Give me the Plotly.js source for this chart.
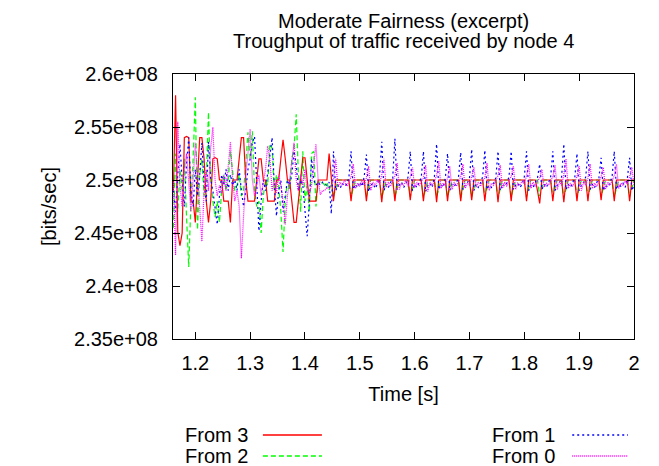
<!DOCTYPE html>
<html>
<head>
<meta charset="utf-8">
<script src="https://cdn.plot.ly/plotly-3.0.1.min.js"></script>
<style>
  html, body { margin: 0; padding: 0; background: #ffffff; }
  #chart { width: 659px; height: 466px; }
</style>
</head>
<body>
<div id="chart"></div>
<script>
// ---- Data (throughput values in Mbit/s, i.e. units of 1e6 bits/sec) ----
const time = [
  1.160,1.164,1.168,1.172,1.176,1.180,1.184,1.188,1.192,1.196,
  1.200,1.204,1.208,1.212,1.216,1.220,1.224,1.228,1.232,1.236,
  1.240,1.244,1.248,1.252,1.256,1.260,1.264,1.268,1.272,1.276,
  1.280,1.284,1.288,1.292,1.296,1.300,1.304,1.308,1.312,1.316,
  1.320,1.324,1.328,1.332,1.336,1.340,1.344,1.348,1.352,1.356,
  1.360,1.364,1.368,1.372,1.376,1.380,1.384,1.388,1.392,1.396,
  1.400,1.404,1.408,1.412,1.416,1.420,1.424,1.428,1.432,1.436,
  1.440,1.444,1.448,1.452,1.456,1.460,1.464,1.468,1.472,1.476,
  1.480,1.484,1.488,1.492,1.496,1.500,1.504,1.508,1.512,1.516,
  1.520,1.524,1.528,1.532,1.536,1.540,1.544,1.548,1.552,1.556,
  1.560,1.564,1.568,1.572,1.576,1.580,1.584,1.588,1.592,1.596,
  1.600,1.604,1.608,1.612,1.616,1.620,1.624,1.628,1.632,1.636,
  1.640,1.644,1.648,1.652,1.656,1.660,1.664,1.668,1.672,1.676,
  1.680,1.684,1.688,1.692,1.696,1.700,1.704,1.708,1.712,1.716,
  1.720,1.724,1.728,1.732,1.736,1.740,1.744,1.748,1.752,1.756,
  1.760,1.764,1.768,1.772,1.776,1.780,1.784,1.788,1.792,1.796,
  1.800,1.804,1.808,1.812,1.816,1.820,1.824,1.828,1.832,1.836,
  1.840,1.844,1.848,1.852,1.856,1.860,1.864,1.868,1.872,1.876,
  1.880,1.884,1.888,1.892,1.896,1.900,1.904,1.908,1.912,1.916,
  1.920,1.924,1.928,1.932,1.936,1.940,1.944,1.948,1.952,1.956,
  1.960,1.964,1.968,1.972,1.976,1.980,1.984,1.988,1.992,1.996,
  2.000
];

const from3 = [
  249.0,258.0,245.1,243.8,245.0,254.0,254.1,254.0,248.0,248.0,
  246.0,250.0,254.0,254.0,252.0,248.0,246.0,248.0,252.0,252.1,
  252.0,250.0,250.0,248.0,248.0,248.0,246.0,250.0,250.0,250.0,
  252.0,254.0,254.0,250.0,248.0,248.0,248.0,248.0,250.0,252.0,
  252.0,250.0,250.0,248.0,248.0,248.0,248.0,250.0,250.0,252.0,
  253.8,252.0,250.0,250.0,248.0,246.0,246.0,248.0,250.0,252.1,
  252.1,250.0,248.0,248.0,248.0,248.0,250.0,250.0,250.0,250.0,
  250.0,252.5,250.0,248.0,250.0,250.0,250.0,250.0,250.0,250.0,
  250.0,248.0,250.0,250.0,250.0,250.0,250.0,250.0,248.0,250.0,
  250.0,250.0,250.0,250.0,250.0,247.9,250.0,250.0,250.0,250.0,
  250.0,248.0,250.0,250.0,250.0,250.0,250.0,250.0,248.1,250.0,
  250.0,250.0,250.0,250.0,248.0,250.0,250.0,250.0,250.0,250.0,
  247.9,250.0,250.0,250.0,250.0,248.0,250.0,250.0,250.0,250.0,
  250.0,248.0,250.0,250.0,250.0,250.0,248.1,250.0,250.0,250.0,
  250.0,250.0,248.0,250.0,250.0,250.0,250.0,250.0,247.9,250.0,
  250.0,250.0,250.0,250.0,248.0,250.0,250.0,250.0,250.0,250.0,
  250.0,248.0,250.0,250.0,250.0,250.0,249.0,247.8,250.0,250.0,
  250.0,250.0,250.0,248.0,250.0,250.0,250.0,250.0,247.9,250.0,
  250.0,250.0,250.0,250.0,248.0,250.0,250.0,250.0,250.0,248.0,
  250.0,250.0,250.0,250.0,250.0,248.1,250.0,250.0,250.0,250.0,
  250.0,248.0,250.0,250.0,250.0,250.0,250.0,250.0,248.0,250.0,
  250.0
];

const from2 = [
  245.5,252.5,247.0,251.0,249.0,252.0,246.5,241.8,248.0,252.0,
  257.8,245.3,250.5,252.0,248.5,250.0,256.4,250.0,248.0,246.5,
  248.0,246.0,249.0,250.5,249.0,250.0,252.7,251.0,249.0,249.5,
  250.5,248.5,249.0,251.5,254.5,252.0,254.6,249.0,247.5,248.0,
  245.0,248.5,250.0,249.5,253.4,253.0,249.0,250.5,249.5,247.0,
  243.2,248.0,250.0,249.0,252.0,253.0,256.2,250.5,247.0,252.7,
  248.0,249.5,247.0,252.5,252.7,247.5,249.8,249.8,249.8,249.5,
  249.8,249.0,249.8,248.4,249.3,250.0,250.0,250.0,250.0,250.0,
  250.0,248.4,249.3,250.0,250.0,250.0,250.0,250.0,248.4,249.3,
  250.0,250.0,250.0,250.0,250.0,248.3,249.3,250.0,250.0,250.0,
  250.0,248.4,249.3,250.0,250.0,250.0,250.0,250.0,248.4,249.3,
  250.0,250.0,250.0,250.0,248.3,249.3,250.0,250.0,250.0,250.0,
  248.4,249.3,250.0,250.0,250.0,248.4,249.3,250.0,250.0,250.0,
  250.0,248.3,249.3,250.0,250.0,250.0,248.4,249.3,250.0,250.0,
  250.0,250.0,248.4,249.3,250.0,250.0,250.0,250.0,248.3,249.3,
  250.0,250.0,250.0,250.0,248.4,249.3,250.0,250.0,250.0,250.0,
  250.0,248.4,249.3,250.0,250.0,250.0,250.0,248.5,249.3,250.0,
  250.0,250.0,250.0,248.4,249.3,250.0,250.0,250.0,248.3,249.3,
  250.0,250.0,250.0,250.0,248.4,249.3,250.0,250.0,250.0,248.4,
  249.3,250.0,250.0,250.0,250.0,248.4,249.3,250.0,250.0,250.0,
  250.0,248.4,249.3,250.0,250.0,250.0,250.0,250.0,248.4,249.3,
  250.0
];

const from1 = [
  249.0,247.0,250.5,253.4,250.0,247.5,251.5,254.0,249.0,247.5,
  251.0,248.5,250.5,253.5,249.5,248.0,253.6,250.0,249.0,247.2,
  245.8,248.5,250.5,249.5,251.0,249.0,250.5,249.5,250.0,249.0,
  251.0,249.0,247.5,249.0,251.0,252.0,253.5,254.1,249.5,245.2,
  248.0,250.0,249.0,250.5,252.0,254.0,249.5,246.6,249.0,250.0,
  247.0,248.5,250.0,249.5,250.5,252.7,251.5,249.0,250.0,249.5,
  247.0,244.7,248.0,252.0,250.0,249.5,249.8,249.5,249.8,249.6,
  249.5,249.8,246.8,252.7,249.0,249.5,249.2,249.7,249.4,249.6,
  250.2,252.7,249.1,249.6,249.3,249.8,249.4,250.3,252.4,248.9,
  249.5,249.7,249.2,249.6,250.4,253.6,249.0,249.6,249.3,249.7,
  250.2,253.9,249.1,249.5,249.8,249.3,249.6,250.3,252.7,249.0,
  249.6,249.3,249.7,250.2,252.7,248.9,249.5,249.7,249.3,250.3,
  253.4,249.1,249.6,249.3,250.2,252.5,249.0,249.6,249.4,249.7,
  250.3,252.6,249.1,249.5,249.7,250.2,252.9,249.0,249.6,249.3,
  249.7,250.3,252.8,249.1,249.5,249.3,249.7,250.2,252.7,249.0,
  249.6,249.4,249.7,250.3,252.7,249.1,249.5,249.7,249.3,249.6,
  250.3,252.7,249.0,249.5,249.3,249.7,250.2,251.5,249.1,249.6,
  249.3,249.7,250.3,252.7,249.0,249.5,249.7,250.3,253.4,249.1,
  249.6,249.3,249.7,250.2,252.5,249.0,249.5,249.7,250.3,252.7,
  249.1,249.6,249.3,249.7,250.2,252.1,249.0,249.5,249.3,249.7,
  250.3,252.7,249.1,249.6,249.4,249.7,249.3,250.2,252.1,249.0,
  249.5
];

const from0 = [
  250.0,242.9,255.5,249.5,247.5,251.0,252.5,249.5,247.0,250.0,
  253.5,250.5,247.5,244.2,249.0,251.0,249.0,253.0,255.0,250.0,
  248.5,249.5,248.8,250.5,249.0,251.0,253.6,250.0,248.0,249.0,
  247.5,242.6,246.0,250.5,252.5,254.8,250.0,248.5,249.5,250.5,
  248.5,250.0,251.0,253.2,252.0,249.0,250.0,248.8,250.5,249.5,
  248.0,245.8,248.5,250.0,251.5,253.5,250.0,249.0,250.5,249.5,
  251.0,249.0,248.8,249.5,251.5,253.4,250.0,248.6,249.0,249.0,
  249.3,249.2,249.5,250.0,252.0,249.3,249.8,249.5,250.0,249.4,
  249.8,250.3,251.5,249.2,249.7,249.4,250.0,249.5,250.2,251.3,
  249.0,249.8,249.5,250.0,249.6,250.5,252.0,249.3,249.8,249.4,
  249.9,250.4,251.6,249.1,249.7,249.5,250.0,249.4,250.3,251.2,
  249.3,249.8,249.5,249.9,250.2,251.4,248.9,249.8,249.5,249.9,
  250.4,251.8,249.2,249.7,249.5,250.2,251.3,249.1,249.8,249.4,
  249.9,250.3,251.5,249.2,249.7,249.5,250.3,251.2,249.3,249.8,
  249.4,249.9,250.2,251.6,249.0,249.7,249.5,249.9,250.4,251.4,
  249.2,249.8,249.4,250.0,250.3,251.3,249.1,249.7,249.5,249.9,
  249.6,250.4,251.5,249.2,249.8,249.4,249.9,250.2,251.0,249.3,
  249.7,249.5,249.9,250.3,251.4,249.1,249.8,249.5,250.5,252.0,
  249.2,249.7,249.4,249.9,250.3,251.3,249.0,249.8,249.5,250.2,
  251.5,249.2,249.7,249.4,249.9,250.3,251.2,249.1,249.8,249.5,
  249.9,250.4,251.5,249.2,249.7,249.5,249.9,249.6,250.3,251.2,
  249.5
];

const seriesNames = ["From 3", "From 2", "From 1", "From 0"];
const xTickVals = [1.2, 1.3, 1.4, 1.5, 1.6, 1.7, 1.8, 1.9, 2.0];
const xTickText = ["1.2", "1.3", "1.4", "1.5", "1.6", "1.7", "1.8", "1.9", "2"];
const yTickVals = [2.35e8, 2.40e8, 2.45e8, 2.50e8, 2.55e8, 2.60e8];
const yTickText = ["2.35e+08", "2.4e+08", "2.45e+08", "2.5e+08", "2.55e+08", "2.6e+08"];

// ---- Styles ----
const UNIT = 1e6;
const FONT = "'Liberation Sans', Arial, Helvetica, sans-serif";
const styles = {
  "From 3": { color: "#ff0000", dash: "solid" },
  "From 2": { color: "#00ff00", dash: "5px,3px" },
  "From 1": { color: "#0000ff", dash: "2px,3px" },
  "From 0": { color: "#ff00ff", dash: "1px,1px" }
};
const valuesByName = { "From 3": from3, "From 2": from2, "From 1": from1, "From 0": from0 };
const drawOrder = ["From 2", "From 3", "From 1", "From 0"];

const traces = drawOrder.map(name => ({
  type: "scatter",
  mode: "lines",
  name: name,
  x: time,
  y: valuesByName[name].map(v => v * UNIT),
  line: { color: styles[name].color, width: 1.2, dash: styles[name].dash },
  showlegend: false,
  hoverinfo: "skip"
}));

// ---- Custom gnuplot-style key (text left, sample right), two columns ----
const keyCols = [
  { textRight: 0.167, lineX0: 0.195, lineX1: 0.323 },
  { textRight: 0.833, lineX0: 0.866, lineX1: 0.987 }
];
const keyTextRows = [-0.364, -0.4425];
const keyLineRows = [-0.3623, -0.4415];
const keyLayout = [
  { name: "From 3", col: 0, row: 0 },
  { name: "From 2", col: 0, row: 1 },
  { name: "From 1", col: 1, row: 0 },
  { name: "From 0", col: 1, row: 1 }
];

const annotations = [
  { text: "Moderate Fairness (excerpt)", xref: "paper", yref: "paper",
    x: 0.5, y: 1.199, xanchor: "center", yanchor: "middle", showarrow: false,
    font: { family: FONT, size: 20, color: "#000" } },
  { text: "Troughput of traffic received by node 4", xref: "paper", yref: "paper",
    x: 0.5, y: 1.1234, xanchor: "center", yanchor: "middle", showarrow: false,
    font: { family: FONT, size: 20, color: "#000" } }
];
const shapes = [];
keyLayout.forEach(k => {
  const c = keyCols[k.col];
  annotations.push({
    text: k.name, xref: "paper", yref: "paper", x: c.textRight, y: keyTextRows[k.row],
    xanchor: "right", yanchor: "middle", showarrow: false,
    font: { family: FONT, size: 20, color: "#000" }
  });
  shapes.push({
    type: "line", xref: "paper", yref: "paper",
    x0: c.lineX0, x1: c.lineX1, y0: keyLineRows[k.row], y1: keyLineRows[k.row],
    line: { color: styles[k.name].color, width: 1.5, dash: styles[k.name].dash }
  });
});

const axisCommon = {
  showgrid: false, zeroline: false,
  showline: true, linecolor: "#000", linewidth: 1, mirror: "ticks",
  ticks: "inside", ticklen: 7, tickcolor: "#000", tickwidth: 1,
  tickfont: { family: FONT, size: 20, color: "#000" },
  automargin: false
};

const layout = {
  width: 659, height: 466,
  margin: { l: 173, r: 25, t: 74, b: 127, pad: 0 },
  paper_bgcolor: "#ffffff", plot_bgcolor: "#ffffff",
  font: { family: FONT, size: 20, color: "#000" },
  showlegend: false,
  xaxis: Object.assign({}, axisCommon, {
    range: [1.1593, 2.0],
    tickmode: "array", tickvals: xTickVals, ticktext: xTickText,
    ticklabelstandoff: 6,
    title: { text: "Time [s]", font: { family: FONT, size: 20, color: "#000" }, standoff: 13 }
  }),
  yaxis: Object.assign({}, axisCommon, {
    range: [2.35e8, 2.6e8],
    tickmode: "array", tickvals: yTickVals, ticktext: yTickText,
    ticklabelstandoff: 10,
    title: { text: "[bits/sec]", font: { family: FONT, size: 20, color: "#000" }, standoff: 12 }
  }),
  annotations: annotations,
  shapes: shapes
};

Plotly.newPlot("chart", traces, layout, { staticPlot: true, displayModeBar: false });
</script>
</body>
</html>
